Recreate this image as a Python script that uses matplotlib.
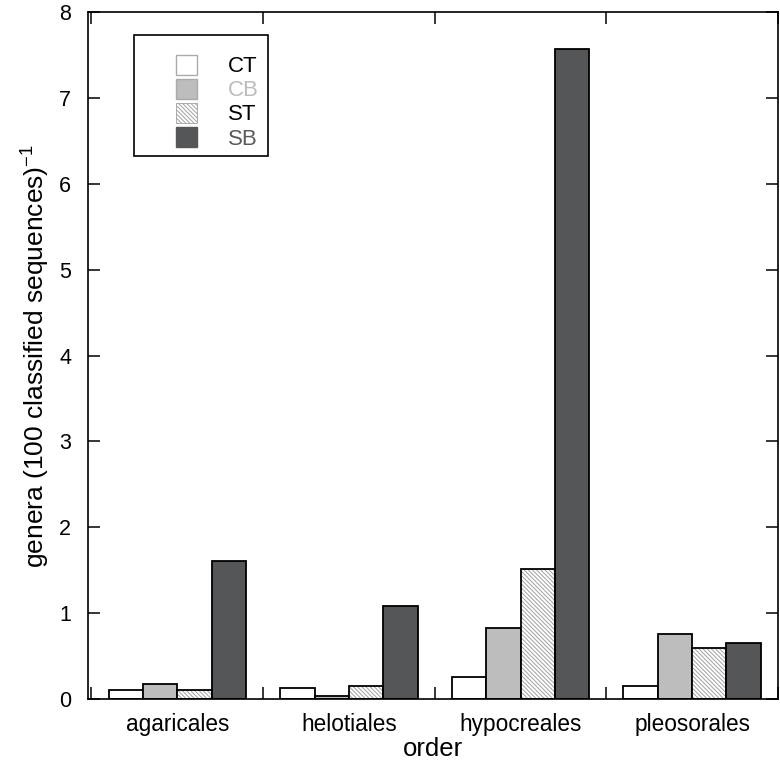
import matplotlib
matplotlib.use('Agg')
import matplotlib.pyplot as plt
from matplotlib.patches import Patch, Rectangle
import numpy as np

plt.rcParams['font.family'] = ['Liberation Sans', 'DejaVu Sans']
plt.rcParams['hatch.linewidth'] = 0.7

orders = ['agaricales', 'helotiales', 'hypocreales', 'pleosorales']
treatments = ['CT', 'CB', 'ST', 'SB']
CT = [0.11, 0.13, 0.26, 0.15]
CB = [0.17, 0.04, 0.83, 0.76]
ST = [0.11, 0.15, 1.51, 0.59]
SB = [1.61, 1.08, 7.57, 0.65]

fig = plt.figure(figsize=(7.8, 7.66), dpi=100)
ax = fig.add_axes([0.1128, 0.0875, 0.8846, 0.8968])

x = np.arange(len(orders))
w = 0.2
lw = 1.3
hatch = '\\' * 8

ax.bar(x + 0.2, CT, w, color='white', edgecolor='black', linewidth=lw, zorder=2)
ax.bar(x + 0.4, CB, w, color='#bdbdbd', edgecolor='black', linewidth=lw, zorder=2)
# hatch drawn in gray first, then black outline on top
ax.bar(x + 0.6, ST, w, color='white', edgecolor='#a0a0a0', hatch=hatch, linewidth=0, zorder=2)
ax.bar(x + 0.6, ST, w, fill=False, edgecolor='black', linewidth=lw, zorder=3)
ax.bar(x + 0.8, SB, w, color='#545658', edgecolor='black', linewidth=lw, zorder=2)

ax.set_xlim(-0.02, 4.0)
ax.set_ylim(0, 8)

# boundary ticks between groups, labels at group centres
ax.set_xticks(np.arange(0, 5))
ax.set_xticklabels([])
ax.set_xticks(x + 0.5, minor=True)
ax.set_xticklabels(orders, minor=True, fontsize=16.3)
ax.tick_params(axis='x', which='major', direction='in', length=8.5, width=1.1, top=True)
ax.tick_params(axis='x', which='minor', length=0, pad=10)
ax.set_yticks(range(0, 9))
ax.tick_params(axis='y', direction='in', length=8.5, width=1.1, right=True, labelsize=15.5, pad=12)
for s in ax.spines.values():
    s.set_linewidth(1.2)

ax.set_xlabel('order', fontsize=18.5, labelpad=1)
ax.set_ylabel('genera (100 classified sequences)$^{\\mathregular{-1}}$', fontsize=19, labelpad=6)

# legend
handles = [Patch(facecolor='white', edgecolor='#aaaaaa'),
           Patch(facecolor='#bdbdbd', edgecolor='#aaaaaa'),
           Patch(facecolor='white', edgecolor='#a0a0a0', hatch=hatch, linewidth=0.6),
           Patch(facecolor='#545658', edgecolor='#545658')]
leg = ax.legend(handles, treatments, loc='upper left', bbox_to_anchor=(0.098, 0.967),
                frameon=False, fontsize=16, handlelength=0.95, handleheight=1.0,
                handletextpad=1.4, labelspacing=0.07)
for t, c in zip(leg.get_texts(), ['black', '#bbbbbb', 'black', '#5a5a5a']):
    t.set_color(c)
ax.add_patch(Rectangle((0.067, 0.79), 0.194, 0.176, transform=ax.transAxes,
                       fill=False, edgecolor='black', linewidth=1.2, zorder=5))

fig.savefig('out.png', dpi=100)
